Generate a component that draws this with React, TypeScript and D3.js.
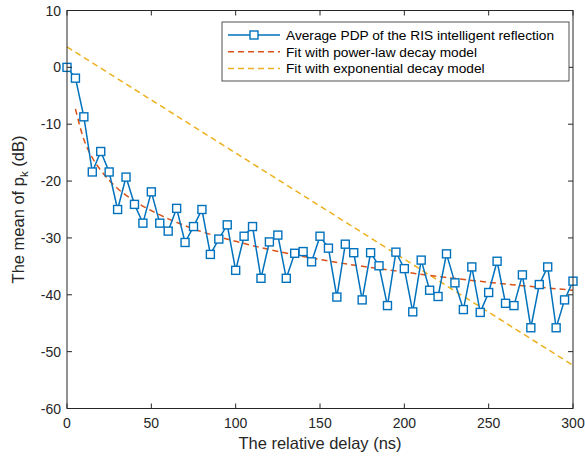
import * as d3 from "d3";

// delay axis in ns, average PDP in dB
const delays = d3.range(0, 301, 5);
const pdp = [
  0, -1.9, -8.7, -18.4, -14.8, -18.4, -25.0, -19.3, -24.1, -27.4,
  -21.9, -27.4, -28.8, -24.8, -30.8, -28.0, -25.0, -32.9, -30.2, -27.7,
  -35.7, -29.7, -28.0, -37.1, -30.7, -29.5, -37.1, -32.7, -32.4, -34.2,
  -29.7, -31.8, -40.4, -31.1, -32.6, -40.9, -32.6, -34.9, -41.9, -32.5,
  -35.4, -43.0, -33.9, -39.2, -40.3, -32.8, -37.9, -42.6, -35.1, -43.1,
  -39.6, -34.1, -41.5, -41.9, -36.5, -45.8, -38.2, -35.1, -45.8, -40.9,
  -37.6,
];

// fit curves
const powerDelays = [5, 10, 15, 20, 30, 40, 50, 75, 100, 150, 200, 250, 300];
const powerFit = [-7.3, -12.7, -15.9, -18.1, -21.3, -23.5, -25.2, -28.4, -30.6, -33.8, -36.0, -37.8, -39.2];
const expDelays = [0, 300];
const expFit = [3.6, -52.4];

const xTicks = [0, 50, 100, 150, 200, 250, 300];
const yTicks = [10, 0, -10, -20, -30, -40, -50, -60];

const legendLabels = [
  "Average PDP of the RIS intelligent reflection",
  "Fit with power-law decay model",
  "Fit with exponential decay model",
];

const W = 585;
const H = 461;
const left = 67;
const right = 573;
const top = 10.5;
const bottom = 408.5;
const axisColor = "#262626";
const font = "Arial, 'Liberation Sans', sans-serif";

export default function App() {
  const x = d3.scaleLinear().domain([0, 300]).range([left, right]);
  const y = d3.scaleLinear().domain([-60, 10]).range([bottom, top]);

  const pdpLine = d3
    .line<number>()
    .x((d, i) => x(delays[i]))
    .y((d) => y(d))(pdp);
  const powerLine = d3
    .line<number>()
    .x((d, i) => x(powerDelays[i]))
    .y((d) => y(d))
    .curve(d3.curveMonotoneX)(powerFit);
  const expLine = d3
    .line<number>()
    .x((d, i) => x(expDelays[i]))
    .y((d) => y(d))(expFit);

  const m = 4; // half marker size
  const tick = 5;

  //legend placement
  const lg = { x: 222, y: 22, w: 347, h: 59 };
  const rowY = (i: number) => lg.y + 13 + i * 16.7;

  return (
    <svg
      width={W}
      height={H}
      style={{ position: "absolute", left: 0, top: 0, background: "#fff" }}
      fontFamily={font}
    >
      <rect x={0} y={0} width={W} height={H} fill="#fff" />

      <g>
        <path d={expLine || ""} fill="none" stroke="#EDB120" strokeWidth={1.5} strokeDasharray="6,4" />
        <path d={powerLine || ""} fill="none" stroke="#D95319" strokeWidth={1.5} strokeDasharray="6,4" />
        <path d={pdpLine || ""} fill="none" stroke="#0072BD" strokeWidth={1.5} />
        {pdp.map((v, i) => (
          <rect
            key={i}
            x={x(delays[i]) - m}
            y={y(v) - m}
            width={2 * m}
            height={2 * m}
            fill="#fff"
            stroke="#0072BD"
            strokeWidth={1.4}
          />
        ))}
      </g>

      {/* box and ticks */}
      <rect x={left} y={top} width={right - left} height={bottom - top} fill="none" stroke={axisColor} strokeWidth={1} />
      {xTicks.map((t) => (
        <g key={"x" + t}>
          <line x1={x(t)} x2={x(t)} y1={bottom} y2={bottom - tick} stroke={axisColor} />
          <line x1={x(t)} x2={x(t)} y1={top} y2={top + tick} stroke={axisColor} />
          <text x={x(t)} y={bottom + 19} textAnchor="middle" fontSize={14} fill={axisColor}>
            {t}
          </text>
        </g>
      ))}
      {yTicks.map((t) => (
        <g key={"y" + t}>
          <line x1={left} x2={left + tick} y1={y(t)} y2={y(t)} stroke={axisColor} />
          <line x1={right} x2={right - tick} y1={y(t)} y2={y(t)} stroke={axisColor} />
          <text x={left - 6} y={y(t) + 5} textAnchor="end" fontSize={14} fill={axisColor}>
            {t}
          </text>
        </g>
      ))}

      <text x={(left + right) / 2} y={449} textAnchor="middle" fontSize={16.5} fill={axisColor}>
        The relative delay (ns)
      </text>
      <text transform={`translate(24,${(top + bottom) / 2}) rotate(-90)`} textAnchor="middle" fontSize={16.5} fill={axisColor}>
        The mean of p
        <tspan fontSize={11.5} dy={4}>k</tspan>
        <tspan dy={-4}> (dB)</tspan>
      </text>

      {/* legend */}
      <rect x={lg.x} y={lg.y} width={lg.w} height={lg.h} fill="#fff" stroke={axisColor} strokeWidth={0.8} />
      <line x1={lg.x + 6} x2={lg.x + 58} y1={rowY(0)} y2={rowY(0)} stroke="#0072BD" strokeWidth={1.5} />
      <rect x={lg.x + 32 - m} y={rowY(0) - m} width={2 * m} height={2 * m} fill="#fff" stroke="#0072BD" strokeWidth={1.4} />
      <line x1={lg.x + 6} x2={lg.x + 58} y1={rowY(1)} y2={rowY(1)} stroke="#D95319" strokeWidth={1.5} strokeDasharray="6,4" />
      <line x1={lg.x + 6} x2={lg.x + 58} y1={rowY(2)} y2={rowY(2)} stroke="#EDB120" strokeWidth={1.5} strokeDasharray="6,4" />
      {legendLabels.map((l, i) => (
        <text key={l} x={lg.x + 64} y={rowY(i) + 5} fontSize={13.7} fill="#000">
          {l}
        </text>
      ))}
    </svg>
  );
}
